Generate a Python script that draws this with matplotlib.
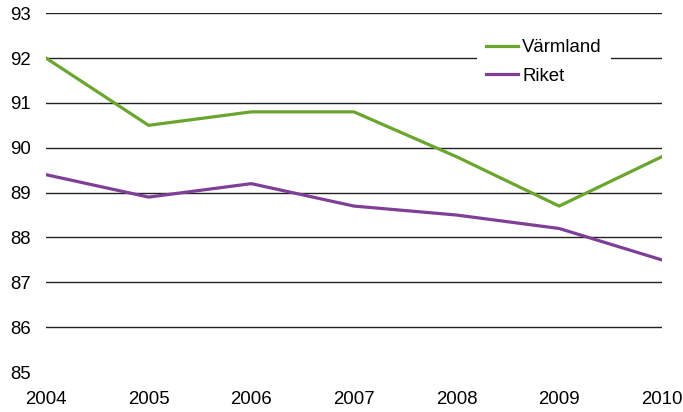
import matplotlib
matplotlib.use('agg')
import matplotlib.pyplot as plt

years = [2004, 2005, 2006, 2007, 2008, 2009, 2010]
varmland = [92.0, 90.5, 90.8, 90.8, 89.8, 88.7, 89.8]
riket = [89.4, 88.9, 89.2, 88.7, 88.5, 88.2, 87.5]
yticks = [85, 86, 87, 88, 89, 90, 91, 92, 93]

plt.rcParams['font.family'] = ['Liberation Sans', 'DejaVu Sans']

fig = plt.figure(figsize=(6.83, 4.12), dpi=100)
ax = fig.add_axes([0.0673, 0.097, 0.9017, 0.871])

# gridlines (no line at the bottom value)
for v in yticks[1:]:
    ax.axhline(v, color='#222222', lw=1.0, zorder=1)

ax.plot(years, varmland, color='#6aa62e', lw=2.3, label='Värmland', zorder=3)
ax.plot(years, riket, color='#7f3f98', lw=2.3, label='Riket', zorder=3)

ax.set_xlim(2004, 2010)
ax.set_ylim(85, 93)
ax.set_xticks(years)
ax.set_yticks(yticks)
ax.tick_params(axis='both', length=0, labelsize=13.4, colors='black')
ax.tick_params(axis='y', pad=11)
ax.tick_params(axis='x', pad=14)
for s in ax.spines.values():
    s.set_visible(False)

leg = ax.legend(loc='upper left', bbox_to_anchor=(0.70, 0.953), frameon=True,
                fontsize=13.4, handlelength=1.7, handletextpad=0.22,
                labelspacing=0.62, borderpad=0.5, borderaxespad=0)
leg.get_frame().set_facecolor('white')
leg.get_frame().set_edgecolor('none')
leg.get_frame().set_alpha(1)
leg.set_zorder(5)

fig.savefig('out.png', dpi=100)
